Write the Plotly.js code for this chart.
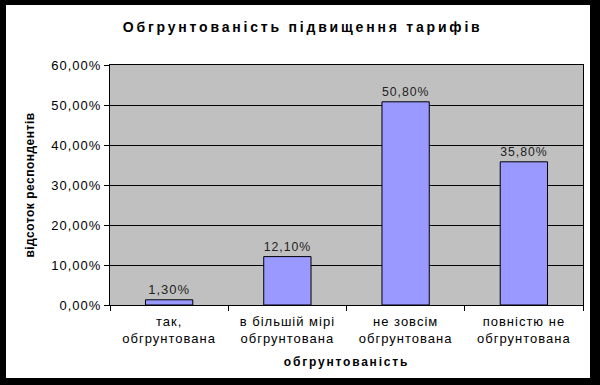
<!DOCTYPE html>
<html><head><meta charset="utf-8">
<script src="https://cdn.plot.ly/plotly-3.0.1.min.js"></script>
<style>
html,body{margin:0;padding:0;background:#000;width:600px;height:385px;overflow:hidden;}
#chart{position:absolute;left:6px;top:5px;width:584px;height:373px;background:#fff;}
.xtick text,.ytick text,.bartext{letter-spacing:1px;}
.gtitle{letter-spacing:2.8px;}
.xtitle{letter-spacing:1.8px;}
.ytitle{letter-spacing:0.5px;}
</style>
</head><body>
<div id="chart"></div>
<script>
const categories = ["так,<br>обгрунтована", "в більшій мірі<br>обгрунтована", "не зовсім<br>обгрунтована", "повністю не<br>обгрунтована"];
const values = [0.013, 0.121, 0.508, 0.358];
const yTicks = [0, 0.1, 0.2, 0.3, 0.4, 0.5, 0.6];
const chartTitle = "Обгрунтованість підвищення тарифів";
const xTitle = "обгрунтованість";
const yTitle = "відсоток респондентів";

const font = "Liberation Sans, Arial, sans-serif";
Plotly.newPlot('chart', [{
  type: 'bar',
  x: categories,
  y: values,
  width: 0.4,
  marker: {color: '#9999ff', line: {color: '#000', width: 1}},
  texttemplate: '%{y:.2%}',
  textposition: 'outside',
  textfont: {family: font, size: 13, color: '#222'},
  cliponaxis: false,
  hoverinfo: 'none'
}], {
  width: 584, height: 373,
  separators: ', ',
  margin: {l: 104, r: 7, t: 60, b: 73},
  paper_bgcolor: '#fff',
  plot_bgcolor: '#c0c0c0',
  showlegend: false,
  font: {family: font, size: 13, color: '#000'},
  title: {text: chartTitle, x: 0.508, xanchor: 'center', y: 1 - 22/373, yanchor: 'middle', yref: 'container',
          font: {family: font, size: 14, weight: 'bold', color: '#000'}},
  xaxis: {
    type: 'category',
    showline: true, linecolor: '#000', linewidth: 1, mirror: true,
    ticks: 'outside', tickson: 'boundaries', ticklen: 5, tickcolor: '#000',
    ticklabelstandoff: 4,
    tickfont: {family: font, size: 13, color: '#000'},
    showgrid: false, fixedrange: true,
    title: {text: xTitle, standoff: 13, font: {family: font, size: 12, weight: 'bold', color: '#000'}}
  },
  yaxis: {
    range: [0, 0.6], tickvals: yTicks, tickformat: '.2%',
    showline: true, linecolor: '#000', linewidth: 1, mirror: true,
    ticks: 'outside', ticklen: 5, tickcolor: '#000',
    tickfont: {family: font, size: 13, color: '#000'},
    showgrid: true, gridcolor: '#000', gridwidth: 1, zeroline: false, fixedrange: true,
    title: {text: yTitle, standoff: 14, font: {family: font, size: 12, weight: 'bold', color: '#000'}}
  },
  bargap: 0.6
}, {staticPlot: true, displayModeBar: false});
</script>
</body></html>
